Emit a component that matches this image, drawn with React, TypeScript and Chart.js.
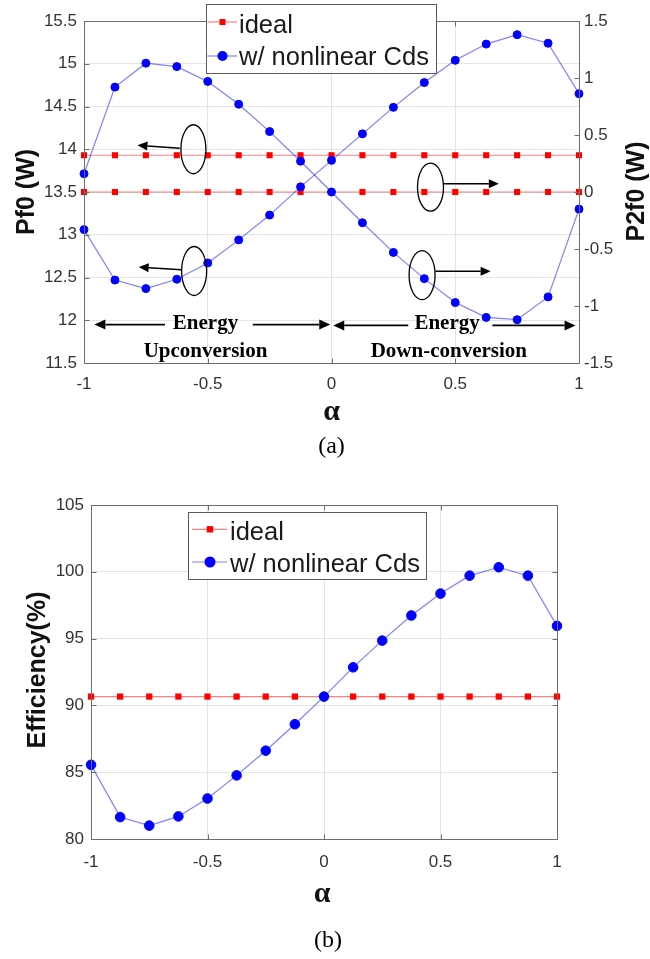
import React, { useEffect, useRef } from 'react';
import { Chart, registerables } from 'chart.js';

Chart.register(...registerables);

// ---------------- data ----------------
const ALPHA = [-1, -0.875, -0.75, -0.625, -0.5, -0.375, -0.25, -0.125, 0, 0.125, 0.25, 0.375, 0.5, 0.625, 0.75, 0.875, 1];

const PF0_IDEAL = [13.93, 13.93, 13.93, 13.93, 13.93, 13.93, 13.93, 13.93, 13.93, 13.93, 13.93, 13.93, 13.93, 13.93, 13.93, 13.93, 13.93];
const P2F0_IDEAL = [0, 0, 0, 0, 0, 0, 0, 0, 0, 0, 0, 0, 0, 0, 0, 0, 0];
const PF0_NONLINEAR = [13.06, 12.47, 12.37, 12.48, 12.67, 12.94, 13.23, 13.56, 13.87, 14.18, 14.49, 14.78, 15.04, 15.23, 15.34, 15.24, 14.65];
const P2F0_NONLINEAR = [0.16, 0.92, 1.13, 1.1, 0.97, 0.77, 0.53, 0.27, 0, -0.27, -0.53, -0.76, -0.97, -1.1, -1.12, -0.92, -0.15];

const EFF_IDEAL = [90.66, 90.66, 90.66, 90.66, 90.66, 90.66, 90.66, 90.66, 90.66, 90.66, 90.66, 90.66, 90.66, 90.66, 90.66, 90.66, 90.66];
const EFF_NONLINEAR = [85.55, 81.64, 81.0, 81.69, 83.03, 84.76, 86.61, 88.59, 90.66, 92.85, 94.85, 96.73, 98.37, 99.71, 100.34, 99.71, 95.95];

const LEGEND_LABELS = ['ideal', 'w/ nonlinear Cds'];

const X_TICKS = [-1, -0.5, 0, 0.5, 1];
const X_TICK_LABELS = ['-1', '-0.5', '0', '0.5', '1'];
const PF0_TICKS = [11.5, 12, 12.5, 13, 13.5, 14, 14.5, 15, 15.5];
const PF0_TICK_LABELS = ['11.5', '12', '12.5', '13', '13.5', '14', '14.5', '15', '15.5'];
const P2F0_TICKS = [-1.5, -1, -0.5, 0, 0.5, 1, 1.5];
const P2F0_TICK_LABELS = ['-1.5', '-1', '-0.5', '0', '0.5', '1', '1.5'];
const EFF_TICKS = [80, 85, 90, 95, 100, 105];
const EFF_TICK_LABELS = ['80', '85', '90', '95', '100', '105'];

// ---------------- styles ----------------
const SANS = '"Liberation Sans", Arial, Helvetica, sans-serif';
const SERIF = '"Liberation Serif", "Times New Roman", serif';
const RED = '#ff0000';
const RED_LINE = 'rgba(255,0,0,0.5)';
const BLUE = '#0000ff';
const BLUE_LINE = 'rgba(0,0,255,0.5)';
const BOX = '#6e6e6e';
const GRID = '#e4e4e4';
const TICK_TEXT = '#333333';
const TITLE = '#111111';

const pts = (ys: number[]) => ALPHA.map((a, i) => ({ x: a, y: ys[i] }));

const redSet = (ys: number[], axis: string, r: number) => ({
  label: LEGEND_LABELS[0],
  data: pts(ys),
  yAxisID: axis,
  borderColor: RED_LINE,
  borderWidth: 1.2,
  pointStyle: 'rect',
  pointRadius: r,
  pointBackgroundColor: RED,
  pointBorderColor: RED,
  pointBorderWidth: 0,
  tension: 0,
  clip: false,
  order: 1,
});

const blueSet = (ys: number[], axis: string, r: number) => ({
  label: LEGEND_LABELS[1],
  data: pts(ys),
  yAxisID: axis,
  borderColor: BLUE_LINE,
  borderWidth: 1.2,
  pointStyle: 'circle',
  pointRadius: r,
  pointBackgroundColor: BLUE,
  pointBorderColor: BLUE,
  pointBorderWidth: 1,
  tension: 0,
  clip: false,
  order: 0,
});

const tickFont = { family: SANS, size: 17 };

function fixed(values: number[]) {
  return (scale: any) => {
    scale.ticks = values.map((v) => ({ value: v }));
  };
}

// ---------------- drawing helpers ----------------
function arrow(ctx: CanvasRenderingContext2D, x0: number, y0: number, x1: number, y1: number, head = 10, half = 4.5) {
  const ang = Math.atan2(y1 - y0, x1 - x0);
  const bx = x1 - head * Math.cos(ang);
  const by = y1 - head * Math.sin(ang);
  ctx.beginPath();
  ctx.moveTo(x0, y0);
  ctx.lineTo(bx, by);
  ctx.stroke();
  ctx.beginPath();
  ctx.moveTo(x1, y1);
  ctx.lineTo(bx + half * Math.sin(ang), by - half * Math.cos(ang));
  ctx.lineTo(bx - half * Math.sin(ang), by + half * Math.cos(ang));
  ctx.closePath();
  ctx.fill();
}

function ellipse(ctx: CanvasRenderingContext2D, cx: number, cy: number, rx: number, ry: number) {
  ctx.beginPath();
  ctx.ellipse(cx, cy, rx, ry, 0, 0, Math.PI * 2);
  ctx.stroke();
}

function boxAndTicks(ctx: CanvasRenderingContext2D, chart: any, leftAxis: string, leftVals: number[], rightAxis: string, rightVals: number[]) {
  const { left, right, top, bottom } = chart.chartArea;
  const L = Math.round(left) + 0.5;
  const R = Math.round(right) + 0.5;
  const T = Math.round(top) + 0.5;
  const B = Math.round(bottom) + 0.5;
  ctx.strokeStyle = BOX;
  ctx.lineWidth = 1;
  ctx.strokeRect(L, T, R - L, B - T);
  const len = 5;
  ctx.beginPath();
  const xs = chart.scales.x;
  X_TICKS.forEach((v) => {
    const px = Math.round(xs.getPixelForValue(v)) + 0.5;
    ctx.moveTo(px, B);
    ctx.lineTo(px, B - len);
    ctx.moveTo(px, T);
    ctx.lineTo(px, T + len);
  });
  const ls = chart.scales[leftAxis];
  leftVals.forEach((v) => {
    const py = Math.round(ls.getPixelForValue(v)) + 0.5;
    ctx.moveTo(L, py);
    ctx.lineTo(L + len, py);
  });
  const rs = chart.scales[rightAxis];
  rightVals.forEach((v) => {
    const py = Math.round(rs.getPixelForValue(v)) + 0.5;
    ctx.moveTo(R, py);
    ctx.lineTo(R - len, py);
  });
  ctx.stroke();
}

type LegendLayout = {
  x: number; y: number; w: number; h: number;
  lineX0: number; lineX1: number; markX: number; textX: number;
  markY: number[]; baseY: number[]; circleR: number; squareHalf: number; fontSize: number;
};

function drawLegend(ctx: CanvasRenderingContext2D, L: LegendLayout) {
  ctx.fillStyle = '#ffffff';
  ctx.fillRect(L.x, L.y, L.w, L.h);
  ctx.strokeStyle = '#5a5a5a';
  ctx.lineWidth = 1;
  ctx.strokeRect(L.x + 0.5, L.y + 0.5, L.w, L.h);
  // ideal row
  ctx.strokeStyle = RED_LINE;
  ctx.lineWidth = 1.2;
  ctx.beginPath();
  ctx.moveTo(L.lineX0, L.markY[0]);
  ctx.lineTo(L.lineX1, L.markY[0]);
  ctx.stroke();
  ctx.fillStyle = RED;
  ctx.fillRect(L.markX - L.squareHalf, L.markY[0] - L.squareHalf, L.squareHalf * 2, L.squareHalf * 2);
  // nonlinear row
  ctx.strokeStyle = BLUE_LINE;
  ctx.beginPath();
  ctx.moveTo(L.lineX0, L.markY[1]);
  ctx.lineTo(L.lineX1, L.markY[1]);
  ctx.stroke();
  ctx.fillStyle = BLUE;
  ctx.beginPath();
  ctx.arc(L.markX, L.markY[1], L.circleR, 0, Math.PI * 2);
  ctx.fill();
  // texts
  ctx.fillStyle = '#1a1a1a';
  ctx.font = `${L.fontSize}px ${SANS}`;
  ctx.textAlign = 'left';
  ctx.textBaseline = 'alphabetic';
  ctx.fillText(LEGEND_LABELS[0], L.textX, L.baseY[0]);
  ctx.fillText(LEGEND_LABELS[1], L.textX, L.baseY[1]);
}

function vText(ctx: CanvasRenderingContext2D, text: string, cx: number, cy: number, font: string) {
  ctx.save();
  ctx.translate(cx, cy);
  ctx.rotate(-Math.PI / 2);
  ctx.font = font;
  ctx.fillStyle = TITLE;
  ctx.textAlign = 'center';
  ctx.textBaseline = 'middle';
  ctx.fillText(text, 0, 0);
  ctx.restore();
}

// ---------------- top chart ----------------
const topDecor = {
  id: 'topDecor',
  afterDraw(chart: any) {
    const ctx: CanvasRenderingContext2D = chart.ctx;
    const xs = chart.scales.x;
    const ys = chart.scales.y;
    const y2 = chart.scales.y2;
    const X = (v: number) => xs.getPixelForValue(v);
    const Y = (v: number) => ys.getPixelForValue(v);
    const Y2 = (v: number) => y2.getPixelForValue(v);
    ctx.save();
    boxAndTicks(ctx, chart, 'y', PF0_TICKS, 'y2', P2F0_TICKS);

    // ellipses + arrows
    ctx.strokeStyle = '#000';
    ctx.fillStyle = '#000';
    ctx.lineWidth = 1.3;
    ellipse(ctx, X(-0.558), Y(14.0), 12.5, 24.5);
    ellipse(ctx, X(-0.555), Y(12.576), 12.5, 24.5);
    ellipse(ctx, X(0.4), Y2(0.042), 13, 24);
    ellipse(ctx, X(0.366), Y2(-0.729), 13, 24.5);
    ctx.lineWidth = 1.5;
    arrow(ctx, X(-0.613), Y(14.012), X(-0.784), Y(14.047));
    arrow(ctx, X(-0.606), Y(12.592), X(-0.779), Y(12.622));
    arrow(ctx, X(0.453), Y2(0.073), X(0.676), Y2(0.073));
    arrow(ctx, X(0.42), Y2(-0.696), X(0.643), Y2(-0.696));

    // energy arrows
    ctx.lineWidth = 1.8;
    arrow(ctx, X(-0.673), Y(11.95), X(-0.958), Y(11.95), 11, 5);
    arrow(ctx, X(-0.318), Y(11.95), X(-0.005), Y(11.95), 11, 5);
    arrow(ctx, X(0.31), Y(11.94), X(0.007), Y(11.94), 11, 5);
    arrow(ctx, X(0.65), Y(11.94), X(0.986), Y(11.94), 11, 5);
    ctx.font = `bold 21px ${SERIF}`;
    ctx.textAlign = 'center';
    ctx.textBaseline = 'alphabetic';
    ctx.fillText('Energy', X(-0.509), Y(11.897));
    ctx.fillText('Energy', X(0.467), Y(11.897));
    ctx.fillText('Upconversion', X(-0.509), Y(11.571));
    ctx.fillText('Down-conversion', X(0.474), Y(11.571));

    // titles
    vText(ctx, 'Pf0 (W)', 27, 192, `bold 25px ${SANS}`);
    vText(ctx, 'P2f0 (W)', 637, 191.5, `bold 25px ${SANS}`);
    ctx.fillStyle = TITLE;
    ctx.textAlign = 'center';
    ctx.textBaseline = 'alphabetic';
    ctx.font = `bold 30px ${SERIF}`;
    ctx.fillText('α', X(0), 420);
    ctx.font = `24px ${SERIF}`;
    ctx.fillStyle = '#000';
    ctx.fillText('(a)', X(0), 453);

    drawLegend(ctx, {
      x: 206, y: 4, w: 230, h: 69,
      lineX0: 207.5, lineX1: 237, markX: 222.5, textX: 239,
      markY: [22, 56], baseY: [33.3, 65], circleR: 5, squareHalf: 3, fontSize: 25.5,
    });
    ctx.restore();
  },
};

function topConfig(): any {
  return {
    type: 'line',
    data: {
      datasets: [
        redSet(PF0_IDEAL, 'y', 4.3),
        redSet(P2F0_IDEAL, 'y2', 4.3),
        blueSet(PF0_NONLINEAR, 'y', 4),
        blueSet(P2F0_NONLINEAR, 'y2', 4),
      ],
    },
    options: {
      responsive: false,
      animation: false,
      events: [],
      layout: { padding: { top: 21, left: 0, right: 0, bottom: 0 } },
      plugins: { legend: { display: false }, tooltip: { enabled: false } },
      scales: {
        x: {
          type: 'linear', min: -1, max: 1,
          afterBuildTicks: fixed(X_TICKS),
          afterFit: (s: any) => { s.height = 97; },
          grid: { color: GRID, lineWidth: 1, drawTicks: false },
          border: { display: false },
          ticks: { font: tickFont, color: TICK_TEXT, padding: 11, autoSkip: false, maxRotation: 0, callback: (_v: any, i: number) => X_TICK_LABELS[i] },
        },
        y: {
          type: 'linear', position: 'left', min: 11.5, max: 15.5,
          afterBuildTicks: fixed(PF0_TICKS),
          afterFit: (s: any) => { s.width = 84; },
          grid: { color: GRID, lineWidth: 1, drawTicks: false },
          border: { display: false },
          ticks: { font: tickFont, color: TICK_TEXT, padding: 7, autoSkip: false, callback: (_v: any, i: number) => PF0_TICK_LABELS[i] },
        },
        y2: {
          type: 'linear', position: 'right', min: -1.5, max: 1.5,
          afterBuildTicks: fixed(P2F0_TICKS),
          afterFit: (s: any) => { s.width = 71; },
          grid: { display: false, drawTicks: false },
          border: { display: false },
          ticks: { font: tickFont, color: TICK_TEXT, padding: 5, autoSkip: false, callback: (_v: any, i: number) => P2F0_TICK_LABELS[i] },
        },
      },
    },
    plugins: [topDecor],
  };
}

// ---------------- bottom chart ----------------
const botDecor = {
  id: 'botDecor',
  afterDraw(chart: any) {
    const ctx: CanvasRenderingContext2D = chart.ctx;
    const xs = chart.scales.x;
    ctx.save();
    boxAndTicks(ctx, chart, 'y', EFF_TICKS, 'y', EFF_TICKS);
    vText(ctx, 'Efficiency(%)', 38, 200, `bold 25px ${SANS}`);
    ctx.fillStyle = TITLE;
    ctx.textAlign = 'center';
    ctx.textBaseline = 'alphabetic';
    ctx.font = `bold 30px ${SERIF}`;
    ctx.fillText('α', xs.getPixelForValue(0) - 2, 431.7);
    ctx.font = `24px ${SERIF}`;
    ctx.fillStyle = '#000';
    ctx.fillText('(b)', xs.getPixelForValue(0) + 4, 477);
    drawLegend(ctx, {
      x: 188, y: 42, w: 238, h: 67,
      lineX0: 192, lineX1: 227, markX: 210, textX: 230,
      markY: [59.3, 92], baseY: [70, 101.7], circleR: 5.5, squareHalf: 3.2, fontSize: 25.5,
    });
    ctx.restore();
  },
};

function botConfig(): any {
  return {
    type: 'line',
    data: {
      datasets: [
        redSet(EFF_IDEAL, 'y', 4.4),
        blueSet(EFF_NONLINEAR, 'y', 4.8),
      ],
    },
    options: {
      responsive: false,
      animation: false,
      events: [],
      layout: { padding: { top: 35, left: 0, right: 93, bottom: 0 } },
      plugins: { legend: { display: false }, tooltip: { enabled: false } },
      scales: {
        x: {
          type: 'linear', min: -1, max: 1,
          afterBuildTicks: fixed(X_TICKS),
          afterFit: (s: any) => { s.height = 120; },
          grid: { color: GRID, lineWidth: 1, drawTicks: false },
          border: { display: false },
          ticks: { font: tickFont, color: TICK_TEXT, padding: 13, autoSkip: false, maxRotation: 0, callback: (_v: any, i: number) => X_TICK_LABELS[i] },
        },
        y: {
          type: 'linear', position: 'left', min: 80, max: 105,
          afterBuildTicks: fixed(EFF_TICKS),
          afterFit: (s: any) => { s.width = 91; },
          grid: { color: GRID, lineWidth: 1, drawTicks: false },
          border: { display: false },
          ticks: { font: tickFont, color: TICK_TEXT, padding: 7, autoSkip: false, callback: (_v: any, i: number) => EFF_TICK_LABELS[i] },
        },
      },
    },
    plugins: [botDecor],
  };
}

export default function App() {
  const topRef = useRef<HTMLCanvasElement>(null);
  const botRef = useRef<HTMLCanvasElement>(null);
  useEffect(() => {
    const c1 = new Chart(topRef.current as HTMLCanvasElement, topConfig());
    const c2 = new Chart(botRef.current as HTMLCanvasElement, botConfig());
    return () => {
      c1.destroy();
      c2.destroy();
    };
  }, []);
  return (
    <div style={{ position: 'absolute', left: 0, top: 0, width: 650, height: 959, background: '#ffffff' }}>
      <canvas ref={topRef} width={650} height={460} style={{ position: 'absolute', left: 0, top: 0, width: 650, height: 460 }} />
      <canvas ref={botRef} width={650} height={489} style={{ position: 'absolute', left: 0, top: 470, width: 650, height: 489 }} />
    </div>
  );
}
